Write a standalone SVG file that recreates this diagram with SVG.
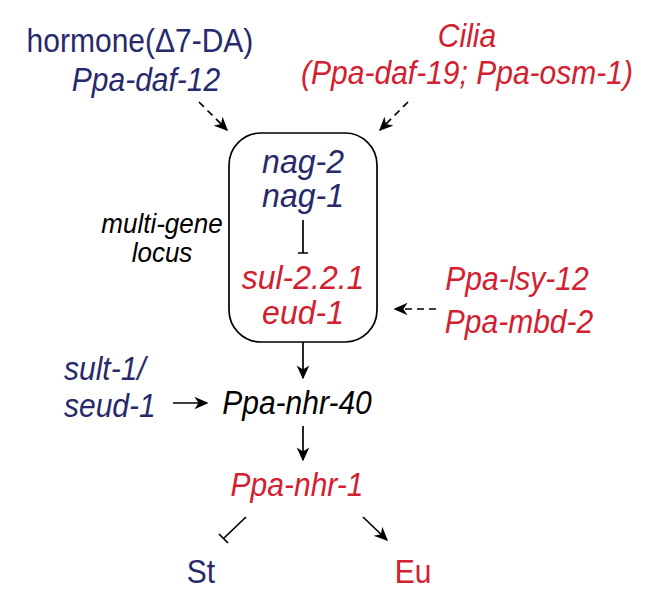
<svg xmlns="http://www.w3.org/2000/svg" width="661" height="600" viewBox="0 0 661 600">
<defs>
<style>
text{font-family:"Liberation Sans",Arial,sans-serif;font-size:30px;text-anchor:middle}
.i{font-style:italic}
.big{font-size:32px}
.sm{font-size:26px}
.b{fill:#27296b}
.r{fill:#d2202f}
.k{fill:#000}
.ln{stroke:#000;stroke-width:1.7;fill:none}
.d{stroke-dasharray:7,5}
</style>
<marker id="ah" viewBox="0 0 10 10" refX="9" refY="5" markerWidth="14" markerHeight="14" markerUnits="userSpaceOnUse" orient="auto">
<path d="M0,0.5 L10,5 L0,9.5 L3,5 Z" fill="#000"/>
</marker>
</defs>
<rect width="661" height="600" fill="#fff"/>
<g id="hormone"><text class="b" transform="translate(140,52) scale(1,1.08)">hormone(Δ7-DA)</text><text class="b i" transform="translate(146,91) scale(1,1.08)">Ppa-daf-12</text></g>
<g id="cilia"><text class="r i" transform="translate(467,47) scale(1,1.08)">Cilia</text><text class="r i" transform="translate(467,84) scale(1,1.08)">(Ppa-daf-19; Ppa-osm-1)</text></g>
<g id="locus"><rect x="229" y="133" width="148" height="209" rx="32" ry="32" fill="none" stroke="#000" stroke-width="1.7"/>
<text class="b i big" transform="translate(303,173) scale(1,1.06)">nag-2</text><text class="b i big" transform="translate(303,207) scale(1,1.06)">nag-1</text>
<text class="r i big" transform="translate(303,289) scale(1,1.06)">sul-2.2.1</text><text class="r i big" transform="translate(303,324) scale(1,1.06)">eud-1</text></g>
<g id="multigene"><text class="k i sm" transform="translate(162,233) scale(1,1.06)">multi-gene</text><text class="k i sm" transform="translate(162,262) scale(1,1.06)">locus</text></g>
<g id="lsy"><text class="r i" transform="translate(517,290) scale(1,1.08)">Ppa-lsy-12</text><text class="r i" transform="translate(519,333) scale(1,1.08)">Ppa-mbd-2</text></g>
<g id="sult"><text class="b i" style="text-anchor:start" transform="translate(64,380) scale(1,1.08)">sult-1/</text><text class="b i" style="text-anchor:start" transform="translate(64,417) scale(1,1.08)">seud-1</text></g>
<g id="nhr40"><text class="k i" transform="translate(297,414) scale(1,1.08)">Ppa-nhr-40</text></g>
<g id="nhr1"><text class="r i" transform="translate(297,496) scale(1,1.08)">Ppa-nhr-1</text></g>
<g id="st"><text class="b" transform="translate(201,583) scale(1,1.08)">St</text></g>
<g id="eu"><text class="r" transform="translate(413,583) scale(1,1.08)">Eu</text></g>
<g id="connectors">
<path class="ln d" d="M199,102 L227,130" marker-end="url(#ah)"/>
<path class="ln d" d="M408,102 L380,130" marker-end="url(#ah)"/>
<path class="ln d" d="M436,309 L395,309" marker-end="url(#ah)"/>
<path class="ln" d="M303,220 L303,253 M298,253 L308,253"/>
<path class="ln" d="M303,342 L303,378" marker-end="url(#ah)"/>
<path class="ln" d="M173,403 L207,403" marker-end="url(#ah)"/>
<path class="ln" d="M303,426 L303,460" marker-end="url(#ah)"/>
<path class="ln" d="M246,517 L224,538 M219,534 L228,543"/>
<path class="ln" d="M363,517 L387,540" marker-end="url(#ah)"/>
</g>
</svg>
